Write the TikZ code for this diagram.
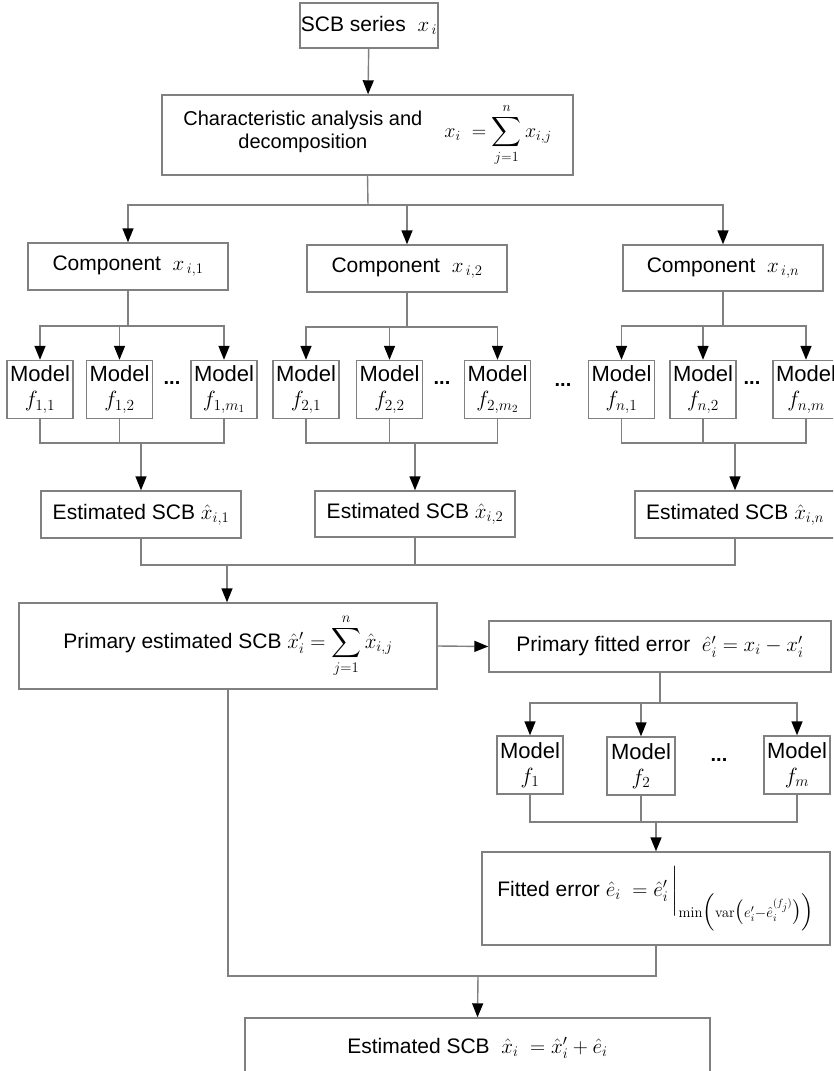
\RequirePackage{fix-cm}
\documentclass[tikz,border=0pt]{standalone}
\usepackage{amsmath}
\usepackage{exscale}
\usepackage[no-math]{fontspec}
\setmainfont{Liberation Sans}
\usetikzlibrary{arrows.meta}
\begin{document}
\begin{tikzpicture}[x=1pt,y=-1pt,
  box/.style={draw=black!50,line width=1.4pt,inner sep=1pt,align=center,
    font=\fontsize{21}{25}\selectfont},
  modelbox/.style={box,minimum width=66,minimum height=58,
    font=\fontsize{22}{25}\selectfont},
  conn/.style={draw=black!50,line width=1.4pt},
  arr/.style={conn,-{Triangle[length=14pt,width=11pt,color=black]}},
  dots/.style={font=\fontsize{20}{22}\selectfont\bfseries}
]
\useasboundingbox (0,0) rectangle (833,1071);
\fill[white] (0,0) rectangle (833,1071);
\clip (0,0) rectangle (833,1071);

% top
\node[box,minimum width=136,minimum height=45] (scb) at (369,25.5) {SCB series \ $x_{\,i}$};
\node[box,minimum width=411,minimum height=80,font=\fontsize{20}{23}\selectfont] (char) at (367.5,135)
  {\begin{tabular}{@{}c@{}}Characteristic analysis and\\ decomposition\end{tabular}\hspace{22pt}$\displaystyle x_i \ = \sum_{j=1}^{n} x_{i,j}$};
\draw[arr] (scb) -- (char);

% components
\node[box,minimum width=200,minimum height=47] (c1) at (128,266.5) {Component \ $x_{\,i,1}$};
\node[box,minimum width=200,minimum height=47] (c2) at (407,268.5) {Component \ $x_{\,i,2}$};
\node[box,minimum width=200,minimum height=46] (cn) at (723,268) {Component \ $x_{\,i,n}$};
\coordinate (h1) at (368,205);
\draw[conn] (char.south) -- (h1);
\draw[arr] (h1) -| (c1.north);
\draw[arr] (h1) -| (c2.north);
\draw[arr] (h1) -| (cn.north);

% models group 1
\node[modelbox] (m11) at (40,389.5) {Model\\ $f_{1,1}$};
\node[modelbox] (m12) at (119.5,389.5) {Model\\ $f_{1,2}$};
\node[modelbox] (m1m) at (224,389.5) {Model\\ $f_{1,m_1}$};
\node[dots] (d1) at (172,383) {...};
\coordinate (t1) at (128,326);
\draw[conn] (c1.south) -- (t1);
\draw[arr] (t1) -| (m11.north);
\draw[arr] (t1) -| (m1m.north);
\draw[arr] (m12.north |- t1) -- (m12.north);
% models group 2
\node[modelbox] (m21) at (306,389.5) {Model\\ $f_{2,1}$};
\node[modelbox] (m22) at (389.5,389.5) {Model\\ $f_{2,2}$};
\node[modelbox] (m2m) at (497.5,389.5) {Model\\ $f_{2,m_2}$};
\node[dots] (d2) at (442,383) {...};
\node[dots] (d3) at (563,385) {...};
\coordinate (t2) at (407,327);
\draw[conn] (c2.south) -- (t2);
\draw[arr] (t2) -| (m21.north);
\draw[arr] (t2) -| (m2m.north);
\draw[arr] (m22.north |- t2) -- (m22.north);
% models group n
\node[modelbox] (mn1) at (621.5,389.5) {Model\\ $f_{n,1}$};
\node[modelbox] (mn2) at (703,389.5) {Model\\ $f_{n,2}$};
\node[modelbox] (mnm) at (806,389.5) {Model\\ $f_{n,m}$};
\node[dots] (d4) at (752,383) {...};
\coordinate (t3) at (723,326);
\draw[conn] (cn.south) -- (t3);
\draw[arr] (t3) -| (mn1.north);
\draw[arr] (t3) -| (mnm.north);
\draw[arr] (mn2.north |- t3) -- (mn2.north);

% estimated boxes
\node[box,minimum width=200,minimum height=47] (e1) at (141,514.5) {Estimated SCB $\hat{x}_{i,1}$};
\node[box,minimum width=200,minimum height=46] (e2) at (415,514) {Estimated SCB $\hat{x}_{i,2}$};
\node[box,minimum width=200,minimum height=47] (en) at (735,514.5) {Estimated SCB $\hat{x}_{i,n}$};
\coordinate (b1) at (141,443);
\draw[conn] (m11.south) |- (m1m.south |- b1) -- (m1m.south);
\draw[conn] (m12.south) -- (m12.south |- b1);
\draw[arr] (b1) -- (e1.north);
\coordinate (b2) at (415,443);
\draw[conn] (m21.south) |- (m2m.south |- b2) -- (m2m.south);
\draw[conn] (m22.south) -- (m22.south |- b2);
\draw[arr] (b2) -- (e2.north);
\coordinate (b3) at (735,443);
\draw[conn] (mn1.south) |- (mnm.south |- b3) -- (mnm.south);
\draw[conn] (mn2.south) -- (mn2.south |- b3);
\draw[arr] (b3) -- (en.north);

% primary
\node[box,minimum width=418,minimum height=86] (prim) at (228,646)
  {Primary estimated SCB $\hat{x}_i' = \displaystyle\sum_{j=1}^{n} \hat{x}_{i,j}$};
\coordinate (pj) at (227,565);
\draw[conn] (e1.south) |- (en.south |- pj) -- (en.south);
\draw[conn] (e2.south) -- (e2.south |- pj);
\draw[arr] (pj) -- (pj |- prim.north);

\node[box,minimum width=342,minimum height=51] (pfe) at (660,646.5)
  {Primary fitted error \ $\hat{e}_i' = x_i - x_i'$};
\draw[arr] (prim.east) -- (pfe.west);

% error models
\node[modelbox] (g1) at (530,765) {Model\\ $f_1$};
\node[modelbox,minimum width=68] (g2) at (641,766) {Model\\ $f_2$};
\node[modelbox] (gm) at (797,765) {Model\\ $f_m$};
\node[dots] (d5) at (719,760) {...};
\coordinate (h2) at (660,703);
\draw[conn] (pfe.south) -- (h2);
\draw[arr] (h2) -| (g1.north);
\draw[arr] (h2) -| (gm.north);
\draw[arr] (g2.north |- h2) -- (g2.north);

\node[box,minimum width=348,minimum height=93,inner sep=0pt] (fit) at (656,898.5)
  {Fitted error $\hat{e}_i \ = \hat{e}'_i\,\bigg|_{\min\mathopen{\Big(}\mathrm{var}\mathopen{\big(}e'_i-\hat{e}_i^{(f_j)}\mathclose{\big)}\mathclose{\Big)}}$};
\coordinate (b4) at (656,822);
\draw[conn] (g1.south) |- (gm.south |- b4) -- (gm.south);
\draw[conn] (g2.south) -- (g2.south |- b4);
\draw[arr] (b4) -- (fit.north);

% final
\node[box,minimum width=465,minimum height=60] (final) at (477.5,1048)
  {Estimated SCB \ $\hat{x}_i \ = \hat{x}'_i + \hat{e}_i$};
\coordinate (b5) at (656,976);
\coordinate (b6) at (478,976);
\draw[conn] (prim.south) |- (b5) -- (fit.south);
\draw[arr] (b6) -- (final.north);
\end{tikzpicture}
\end{document}
